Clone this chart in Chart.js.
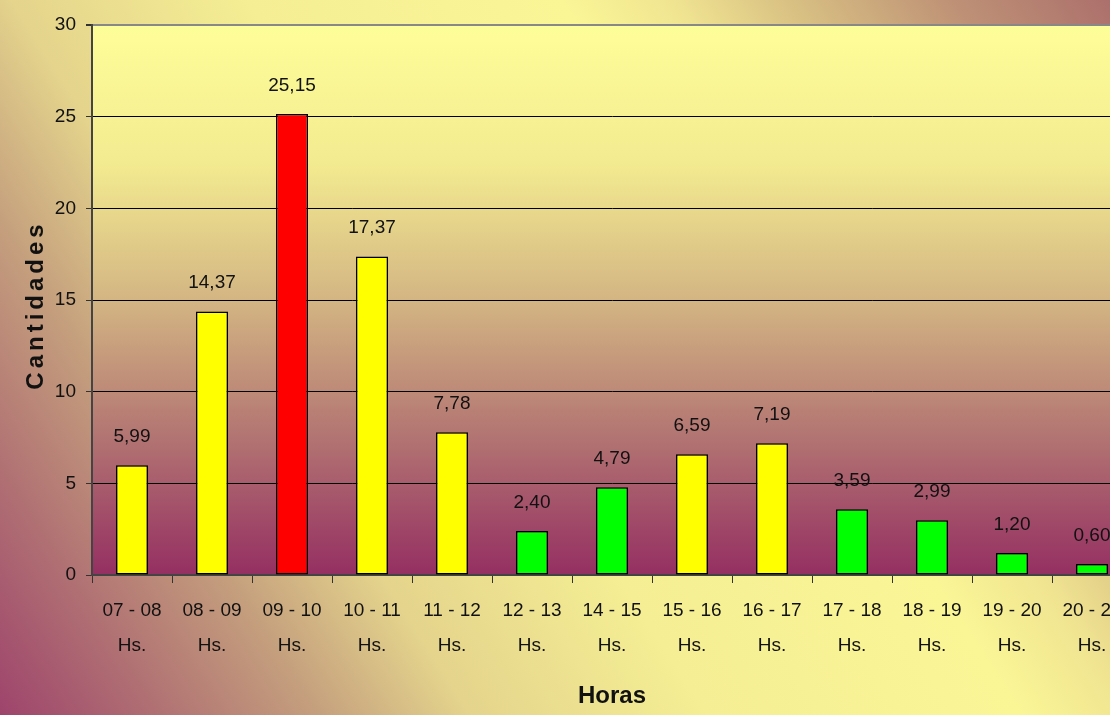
<!DOCTYPE html>
<html>
<head>
<meta charset="utf-8">
<script src="https://cdn.jsdelivr.net/npm/chart.js@4"></script>
<style>
  html, body { margin: 0; padding: 0; overflow: hidden; background: #e6d690; }
  #wrap { width: 1140px; height: 715px; }
</style>
</head>
<body>
<div id="wrap"><canvas id="horasChart" width="1140" height="715"></canvas></div>
<script>
// datos
const horas = ['07 - 08', '08 - 09', '09 - 10', '10 - 11', '11 - 12', '12 - 13', '14 - 15',
  '15 - 16', '16 - 17', '17 - 18', '18 - 19', '19 - 20', '20 - 21'];
const cantidades = [5.99, 14.37, 25.15, 17.37, 7.78, 2.40, 4.79, 6.59, 7.19, 3.59, 2.99, 1.20, 0.60];
const colores = ['#ffff00', '#ffff00', '#ff0000', '#ffff00', '#ffff00', '#00ff00', '#00ff00',
  '#ffff00', '#ffff00', '#00ff00', '#00ff00', '#00ff00', '#00ff00'];
const ticksY = [0, 5, 10, 15, 20, 25, 30];

const FONT = "'Liberation Sans', Arial, sans-serif";

// fondo general (degradado diagonal) y fondo del area del grafico
const fondoPlugin = {
  id: 'fondo',
  beforeDraw(chart) {
    const c = chart.ctx;
    const W = 1110, H = 715;
    c.save();
    const g = c.createLinearGradient(0, H, W, 0);
    g.addColorStop(0, 'rgb(158,68,108)');
    g.addColorStop(0.1, 'rgb(176,112,115)');
    g.addColorStop(0.2, 'rgb(196,158,125)');
    g.addColorStop(0.3, 'rgb(228,212,140)');
    g.addColorStop(0.45, 'rgb(245,238,148)');
    g.addColorStop(0.65, 'rgb(250,246,150)');
    g.addColorStop(0.72, 'rgb(240,228,145)');
    g.addColorStop(0.8, 'rgb(215,190,130)');
    g.addColorStop(0.9, 'rgb(190,145,118)');
    g.addColorStop(1, 'rgb(172,112,108)');
    c.fillStyle = g;
    c.fillRect(0, 0, chart.width, chart.height);

    const a = chart.chartArea;
    const p = c.createLinearGradient(0, a.top, 0, a.bottom);
    p.addColorStop(0, '#fefe99');
    p.addColorStop(0.25, '#f3eb90');
    p.addColorStop(0.5, '#d3b583');
    p.addColorStop(0.75, '#b27472');
    p.addColorStop(1, '#952f62');
    c.fillStyle = p;
    c.fillRect(a.left, a.top, a.right - a.left, a.bottom - a.top);
    c.restore();
  }
};

// valores encima de las barras + titulo del eje Y
const etiquetasPlugin = {
  id: 'etiquetas',
  afterDatasetsDraw(chart) {
    const c = chart.ctx;
    c.save();
    c.font = '19px ' + FONT;
    c.fillStyle = '#111';
    c.textAlign = 'center';
    c.textBaseline = 'middle';
    chart.getDatasetMeta(0).data.forEach((bar, i) => {
      c.fillText(cantidades[i].toFixed(2).replace('.', ','), bar.x, bar.y - 28.5);
    });
    c.restore();
  },
  afterDraw(chart) {
    const c = chart.ctx;
    c.save();
    c.translate(43, 307);
    c.rotate(-Math.PI / 2);
    c.font = 'bold 24px ' + FONT;
    c.letterSpacing = '4px';
    c.fillStyle = '#111';
    c.textAlign = 'center';
    c.textBaseline = 'alphabetic';
    c.fillText('Cantidades', 2, 0);
    c.restore();
  }
};

const ctx = document.getElementById('horasChart').getContext('2d');
const horasChart = new Chart(ctx, {
  type: 'bar',
  data: {
    labels: horas.map(h => [h, 'Hs.']),
    datasets: [{
      label: 'Cantidades',
      data: cantidades,
      backgroundColor: colores,
      borderColor: '#000',
      borderWidth: 1.5,
      borderSkipped: false,
      categoryPercentage: 0.4,
      barPercentage: 1
    }]
  },
  options: {
    responsive: false,
    animation: false,
    layout: { padding: { top: 25, right: 8, left: 0, bottom: 0 } },
    plugins: {
      legend: { display: false },
      tooltip: { enabled: false }
    },
    scales: {
      x: {
        afterFit: (s) => { s.height = 140; },
        grid: {
          drawOnChartArea: false,
          drawTicks: true,
          tickLength: 8,
          offset: true,
          color: '#333'
        },
        border: { color: '#444', width: 2 },
        ticks: {
          color: '#111',
          font: { family: FONT, size: 19, lineHeight: 1.8 },
          padding: 11,
          maxRotation: 0,
          autoSkip: false
        },
        title: {
          display: true,
          text: 'Horas',
          color: '#111',
          font: { family: FONT, size: 24, weight: 'bold' },
          padding: { top: 0, bottom: 4 }
        }
      },
      y: {
        min: 0,
        max: 30,
        afterFit: (s) => { s.width = 92; },
        afterBuildTicks: (s) => { s.ticks = ticksY.map(v => ({ value: v })); },
        grid: {
          color: (c) => (c.tick && c.tick.value === 30 ? '#888' : '#000'),
          lineWidth: (c) => (c.tick && c.tick.value === 30 ? 2 : 1),
          tickColor: '#333',
          tickLength: 6
        },
        border: { color: '#444', width: 2 },
        ticks: {
          color: '#111',
          font: { family: FONT, size: 19 },
          padding: 10
        }
      }
    }
  },
  plugins: [fondoPlugin, etiquetasPlugin]
});
</script>
</body>
</html>
